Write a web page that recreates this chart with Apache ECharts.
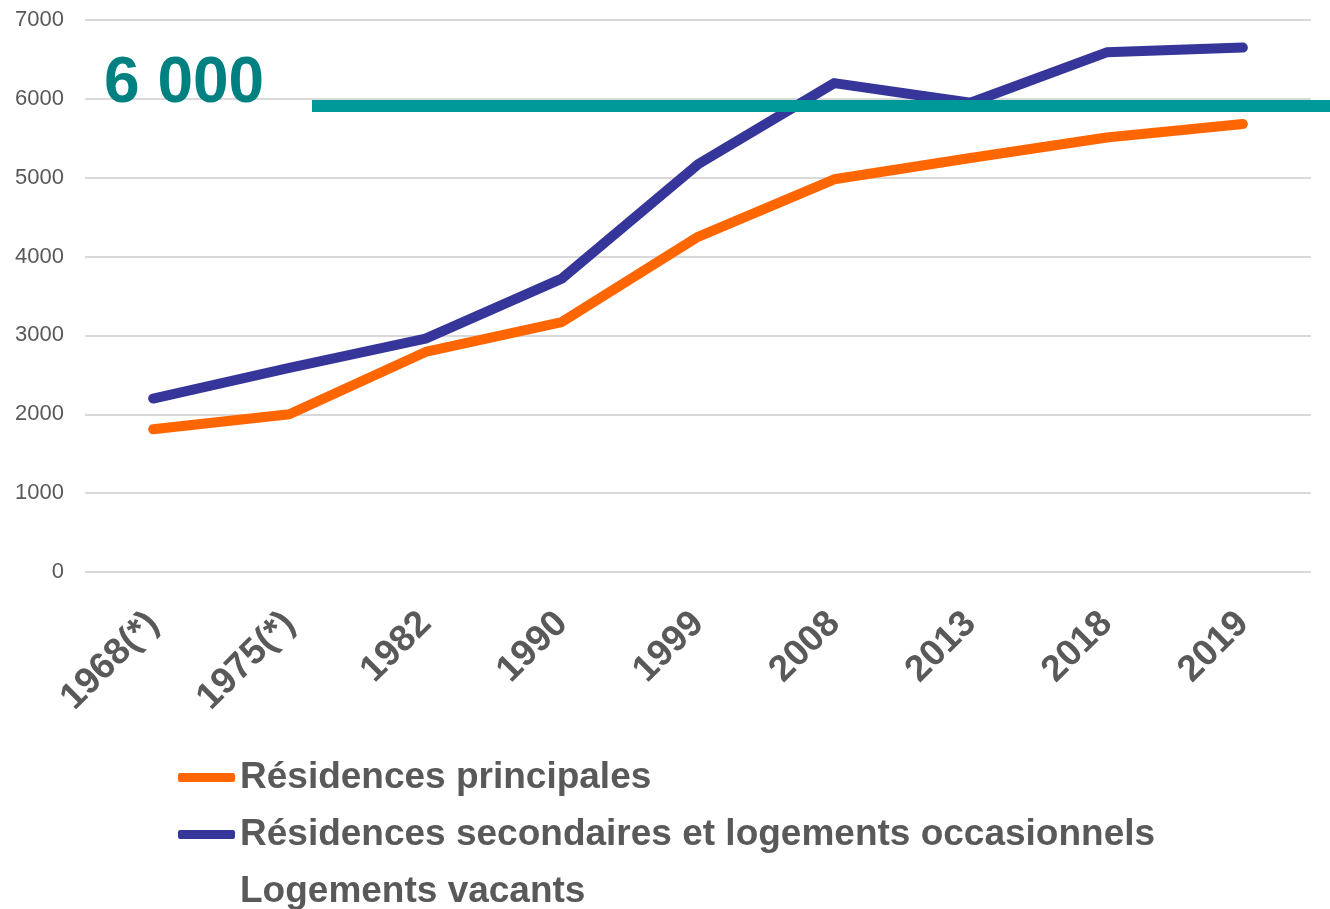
<!DOCTYPE html>
<html>
<head>
<meta charset="utf-8">
<script src="https://cdn.jsdelivr.net/npm/echarts@6/dist/echarts.min.js"></script>
<style>
  html, body { margin: 0; padding: 0; background: #fff; }
  #chart { width: 1330px; height: 909px; }
</style>
</head>
<body>
<div id="chart"></div>
<script>
// données
var years = ['1968(*)', '1975(*)', '1982', '1990', '1999', '2008', '2013', '2018', '2019'];
var principales = [1810, 2000, 2790, 3170, 4250, 4980, 5250, 5510, 5680];
var secondaires = [2200, 2590, 2960, 3720, 5170, 6200, 5950, 6590, 6650];
var seuil = 5910;
var seuilLabel = '6 000';

var gris = '#595959';
var chart = echarts.init(document.getElementById('chart'));

chart.setOption({
    animation: false,
    textStyle: { fontFamily: 'Liberation Sans, Arial, sans-serif' },
    grid: { left: 85, right: 19, top: 20, bottom: 337 },
    legend: {
        orient: 'vertical',
        left: 178,
        top: 759,
        height: 200,
        padding: 0,
        itemWidth: 57,
        itemHeight: 9,
        itemGap: 20,
        textStyle: { color: gris, fontSize: 37, fontWeight: 'bold', lineHeight: 37 },
        data: [
            { name: 'Résidences principales', icon: 'roundRect' },
            { name: 'Résidences secondaires et logements occasionnels', icon: 'roundRect' },
            { name: 'Logements vacants', icon: 'none' }
        ]
    },
    xAxis: {
        type: 'category',
        data: years,
        axisLine: { show: false },
        axisTick: { show: false },
        axisLabel: {
            rotate: 45,
            margin: 46,
            color: gris,
            fontSize: 37,
            fontWeight: 'bold'
        }
    },
    yAxis: {
        type: 'value',
        min: 0,
        max: 7000,
        interval: 1000,
        axisLine: { show: false },
        axisTick: { show: false },
        axisLabel: {
            color: gris,
            fontSize: 22,
            margin: 21,
            formatter: function (v) { return String(v); }
        },
        splitLine: { lineStyle: { color: '#d9d9d9', width: 2 } }
    },
    series: [
        {
            name: 'Résidences principales',
            type: 'line',
            data: principales,
            symbol: 'none',
            color: '#ff6600',
            lineStyle: { width: 10, cap: 'round', join: 'round' }
        },
        {
            name: 'Résidences secondaires et logements occasionnels',
            type: 'line',
            data: secondaires,
            symbol: 'none',
            color: '#36369a',
            lineStyle: { width: 10, cap: 'round', join: 'round' }
        },
        {
            name: 'Logements vacants',
            type: 'line',
            data: [],
            symbol: 'none',
            color: 'rgba(0,0,0,0)'
        }
    ]
});

// trait du seuil 6 000 (dépasse la zone de tracé à droite)
var yS = chart.convertToPixel({ yAxisIndex: 0 }, seuil);
chart.setOption({
    graphic: [
        {
            type: 'rect',
            shape: { x: 312, y: yS - 6, width: 1330 - 312, height: 12 },
            style: { fill: '#009999' },
            z: 10
        },
        {
            type: 'text',
            left: 104,
            top: 52,
            style: {
                text: seuilLabel,
                fill: '#008080',
                font: 'bold 64px Liberation Sans, Arial, sans-serif'
            },
            z: 11
        }
    ]
});
</script>
</body>
</html>
